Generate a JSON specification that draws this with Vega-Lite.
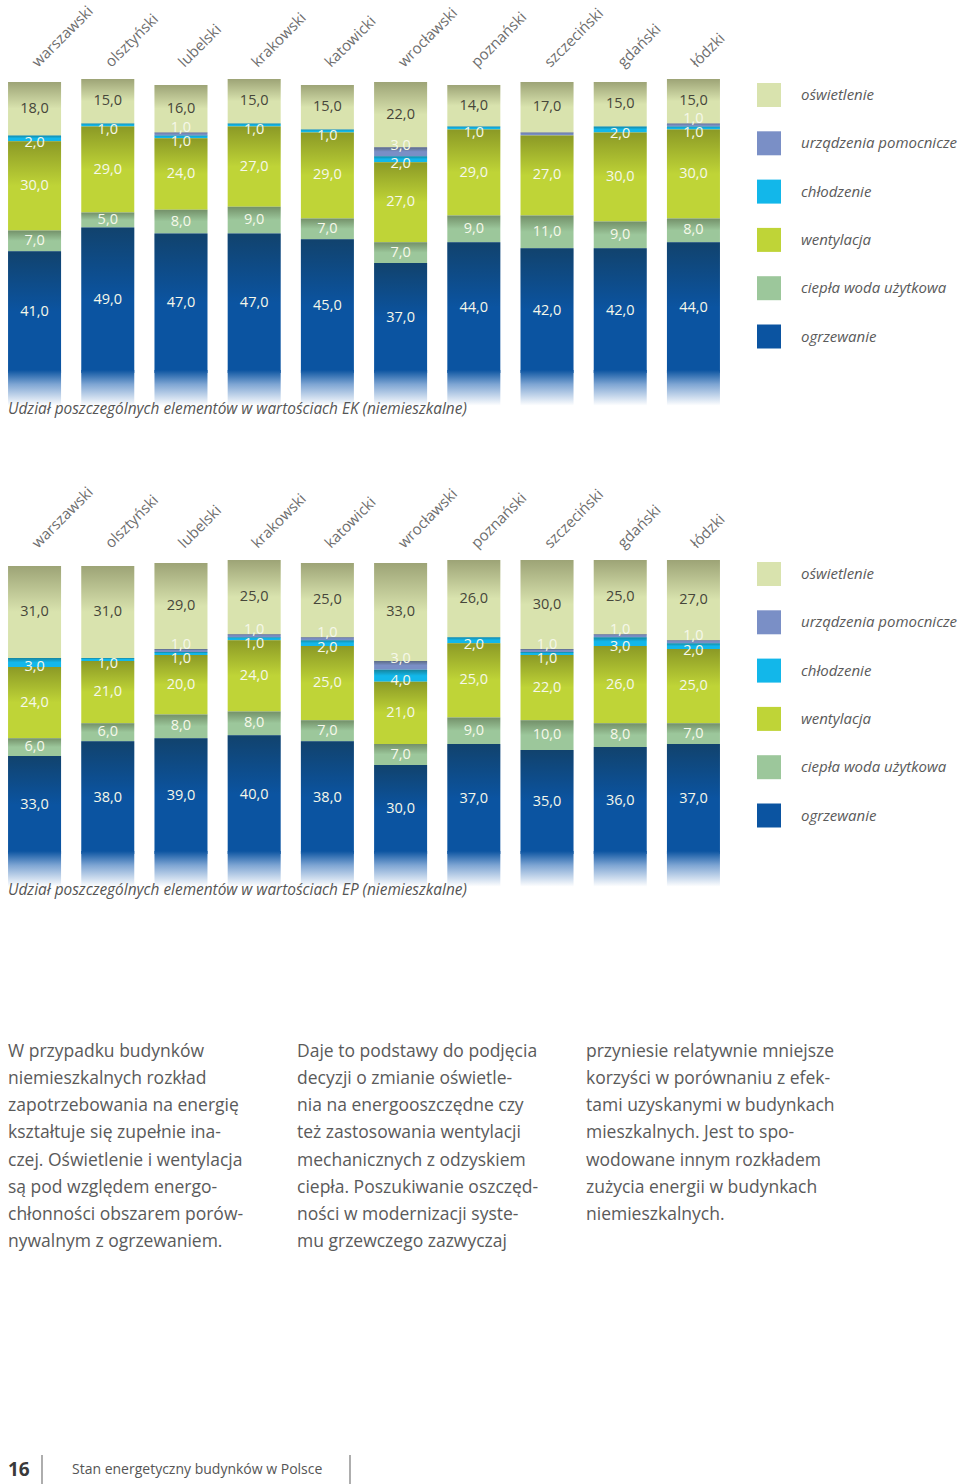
{
  "$schema": "https://vega.github.io/schema/vega-lite/v6.json",
  "background": "white",
  "padding": {"left": 0, "top": 3, "right": 0, "bottom": 0},
  "autosize": {"type": "pad"},
  "config": {
    "view": {"stroke": null},
    "font": "Open Sans",
    "locale": {"number": {"decimal": ",", "thousands": " ", "grouping": [3], "currency": ["", " zł"]}}
  },
  "datasets": {
    "kategorie": [
      {"kategoria": "ogrzewanie", "kolejnosc": 1},
      {"kategoria": "ciepła woda użytkowa", "kolejnosc": 2},
      {"kategoria": "wentylacja", "kolejnosc": 3},
      {"kategoria": "chłodzenie", "kolejnosc": 4},
      {"kategoria": "urządzenia pomocnicze", "kolejnosc": 5},
      {"kategoria": "oświetlenie", "kolejnosc": 6}
    ],
    "ek": [
      {"miasto": "warszawski", "kategoria": "oświetlenie", "wartosc": 18},
      {"miasto": "warszawski", "kategoria": "chłodzenie", "wartosc": 2},
      {"miasto": "warszawski", "kategoria": "wentylacja", "wartosc": 30},
      {"miasto": "warszawski", "kategoria": "ciepła woda użytkowa", "wartosc": 7},
      {"miasto": "warszawski", "kategoria": "ogrzewanie", "wartosc": 41},
      {"miasto": "olsztyński", "kategoria": "oświetlenie", "wartosc": 15},
      {"miasto": "olsztyński", "kategoria": "chłodzenie", "wartosc": 1},
      {"miasto": "olsztyński", "kategoria": "wentylacja", "wartosc": 29},
      {"miasto": "olsztyński", "kategoria": "ciepła woda użytkowa", "wartosc": 5},
      {"miasto": "olsztyński", "kategoria": "ogrzewanie", "wartosc": 49},
      {"miasto": "lubelski", "kategoria": "oświetlenie", "wartosc": 16},
      {"miasto": "lubelski", "kategoria": "urządzenia pomocnicze", "wartosc": 1},
      {"miasto": "lubelski", "kategoria": "chłodzenie", "wartosc": 1},
      {"miasto": "lubelski", "kategoria": "wentylacja", "wartosc": 24},
      {"miasto": "lubelski", "kategoria": "ciepła woda użytkowa", "wartosc": 8},
      {"miasto": "lubelski", "kategoria": "ogrzewanie", "wartosc": 47},
      {"miasto": "krakowski", "kategoria": "oświetlenie", "wartosc": 15},
      {"miasto": "krakowski", "kategoria": "chłodzenie", "wartosc": 1},
      {"miasto": "krakowski", "kategoria": "wentylacja", "wartosc": 27},
      {"miasto": "krakowski", "kategoria": "ciepła woda użytkowa", "wartosc": 9},
      {"miasto": "krakowski", "kategoria": "ogrzewanie", "wartosc": 47},
      {"miasto": "katowicki", "kategoria": "oświetlenie", "wartosc": 15},
      {"miasto": "katowicki", "kategoria": "chłodzenie", "wartosc": 1},
      {"miasto": "katowicki", "kategoria": "wentylacja", "wartosc": 29},
      {"miasto": "katowicki", "kategoria": "ciepła woda użytkowa", "wartosc": 7},
      {"miasto": "katowicki", "kategoria": "ogrzewanie", "wartosc": 45},
      {"miasto": "wrocławski", "kategoria": "oświetlenie", "wartosc": 22},
      {"miasto": "wrocławski", "kategoria": "urządzenia pomocnicze", "wartosc": 3},
      {"miasto": "wrocławski", "kategoria": "chłodzenie", "wartosc": 2},
      {"miasto": "wrocławski", "kategoria": "wentylacja", "wartosc": 27},
      {"miasto": "wrocławski", "kategoria": "ciepła woda użytkowa", "wartosc": 7},
      {"miasto": "wrocławski", "kategoria": "ogrzewanie", "wartosc": 37},
      {"miasto": "poznański", "kategoria": "oświetlenie", "wartosc": 14},
      {"miasto": "poznański", "kategoria": "chłodzenie", "wartosc": 1},
      {"miasto": "poznański", "kategoria": "wentylacja", "wartosc": 29},
      {"miasto": "poznański", "kategoria": "ciepła woda użytkowa", "wartosc": 9},
      {"miasto": "poznański", "kategoria": "ogrzewanie", "wartosc": 44},
      {"miasto": "szczeciński", "kategoria": "oświetlenie", "wartosc": 17},
      {"miasto": "szczeciński", "kategoria": "urządzenia pomocnicze", "wartosc": 1},
      {"miasto": "szczeciński", "kategoria": "wentylacja", "wartosc": 27},
      {"miasto": "szczeciński", "kategoria": "ciepła woda użytkowa", "wartosc": 11},
      {"miasto": "szczeciński", "kategoria": "ogrzewanie", "wartosc": 42},
      {"miasto": "gdański", "kategoria": "oświetlenie", "wartosc": 15},
      {"miasto": "gdański", "kategoria": "chłodzenie", "wartosc": 2},
      {"miasto": "gdański", "kategoria": "wentylacja", "wartosc": 30},
      {"miasto": "gdański", "kategoria": "ciepła woda użytkowa", "wartosc": 9},
      {"miasto": "gdański", "kategoria": "ogrzewanie", "wartosc": 42},
      {"miasto": "łódzki", "kategoria": "oświetlenie", "wartosc": 15},
      {"miasto": "łódzki", "kategoria": "urządzenia pomocnicze", "wartosc": 1},
      {"miasto": "łódzki", "kategoria": "chłodzenie", "wartosc": 1},
      {"miasto": "łódzki", "kategoria": "wentylacja", "wartosc": 30},
      {"miasto": "łódzki", "kategoria": "ciepła woda użytkowa", "wartosc": 8},
      {"miasto": "łódzki", "kategoria": "ogrzewanie", "wartosc": 44}
    ],
    "ep": [
      {"miasto": "warszawski", "kategoria": "oświetlenie", "wartosc": 31},
      {"miasto": "warszawski", "kategoria": "chłodzenie", "wartosc": 3},
      {"miasto": "warszawski", "kategoria": "wentylacja", "wartosc": 24},
      {"miasto": "warszawski", "kategoria": "ciepła woda użytkowa", "wartosc": 6},
      {"miasto": "warszawski", "kategoria": "ogrzewanie", "wartosc": 33},
      {"miasto": "olsztyński", "kategoria": "oświetlenie", "wartosc": 31},
      {"miasto": "olsztyński", "kategoria": "chłodzenie", "wartosc": 1},
      {"miasto": "olsztyński", "kategoria": "wentylacja", "wartosc": 21},
      {"miasto": "olsztyński", "kategoria": "ciepła woda użytkowa", "wartosc": 6},
      {"miasto": "olsztyński", "kategoria": "ogrzewanie", "wartosc": 38},
      {"miasto": "lubelski", "kategoria": "oświetlenie", "wartosc": 29},
      {"miasto": "lubelski", "kategoria": "urządzenia pomocnicze", "wartosc": 1},
      {"miasto": "lubelski", "kategoria": "chłodzenie", "wartosc": 1},
      {"miasto": "lubelski", "kategoria": "wentylacja", "wartosc": 20},
      {"miasto": "lubelski", "kategoria": "ciepła woda użytkowa", "wartosc": 8},
      {"miasto": "lubelski", "kategoria": "ogrzewanie", "wartosc": 39},
      {"miasto": "krakowski", "kategoria": "oświetlenie", "wartosc": 25},
      {"miasto": "krakowski", "kategoria": "urządzenia pomocnicze", "wartosc": 1},
      {"miasto": "krakowski", "kategoria": "chłodzenie", "wartosc": 1},
      {"miasto": "krakowski", "kategoria": "wentylacja", "wartosc": 24},
      {"miasto": "krakowski", "kategoria": "ciepła woda użytkowa", "wartosc": 8},
      {"miasto": "krakowski", "kategoria": "ogrzewanie", "wartosc": 40},
      {"miasto": "katowicki", "kategoria": "oświetlenie", "wartosc": 25},
      {"miasto": "katowicki", "kategoria": "urządzenia pomocnicze", "wartosc": 1},
      {"miasto": "katowicki", "kategoria": "chłodzenie", "wartosc": 2},
      {"miasto": "katowicki", "kategoria": "wentylacja", "wartosc": 25},
      {"miasto": "katowicki", "kategoria": "ciepła woda użytkowa", "wartosc": 7},
      {"miasto": "katowicki", "kategoria": "ogrzewanie", "wartosc": 38},
      {"miasto": "wrocławski", "kategoria": "oświetlenie", "wartosc": 33},
      {"miasto": "wrocławski", "kategoria": "urządzenia pomocnicze", "wartosc": 3},
      {"miasto": "wrocławski", "kategoria": "chłodzenie", "wartosc": 4},
      {"miasto": "wrocławski", "kategoria": "wentylacja", "wartosc": 21},
      {"miasto": "wrocławski", "kategoria": "ciepła woda użytkowa", "wartosc": 7},
      {"miasto": "wrocławski", "kategoria": "ogrzewanie", "wartosc": 30},
      {"miasto": "poznański", "kategoria": "oświetlenie", "wartosc": 26},
      {"miasto": "poznański", "kategoria": "chłodzenie", "wartosc": 2},
      {"miasto": "poznański", "kategoria": "wentylacja", "wartosc": 25},
      {"miasto": "poznański", "kategoria": "ciepła woda użytkowa", "wartosc": 9},
      {"miasto": "poznański", "kategoria": "ogrzewanie", "wartosc": 37},
      {"miasto": "szczeciński", "kategoria": "oświetlenie", "wartosc": 30},
      {"miasto": "szczeciński", "kategoria": "urządzenia pomocnicze", "wartosc": 1},
      {"miasto": "szczeciński", "kategoria": "chłodzenie", "wartosc": 1},
      {"miasto": "szczeciński", "kategoria": "wentylacja", "wartosc": 22},
      {"miasto": "szczeciński", "kategoria": "ciepła woda użytkowa", "wartosc": 10},
      {"miasto": "szczeciński", "kategoria": "ogrzewanie", "wartosc": 35},
      {"miasto": "gdański", "kategoria": "oświetlenie", "wartosc": 25},
      {"miasto": "gdański", "kategoria": "urządzenia pomocnicze", "wartosc": 1},
      {"miasto": "gdański", "kategoria": "chłodzenie", "wartosc": 3},
      {"miasto": "gdański", "kategoria": "wentylacja", "wartosc": 26},
      {"miasto": "gdański", "kategoria": "ciepła woda użytkowa", "wartosc": 8},
      {"miasto": "gdański", "kategoria": "ogrzewanie", "wartosc": 36},
      {"miasto": "łódzki", "kategoria": "oświetlenie", "wartosc": 27},
      {"miasto": "łódzki", "kategoria": "urządzenia pomocnicze", "wartosc": 1},
      {"miasto": "łódzki", "kategoria": "chłodzenie", "wartosc": 2},
      {"miasto": "łódzki", "kategoria": "wentylacja", "wartosc": 25},
      {"miasto": "łódzki", "kategoria": "ciepła woda użytkowa", "wartosc": 7},
      {"miasto": "łódzki", "kategoria": "ogrzewanie", "wartosc": 37}
    ],
    "tekst": [
      {"kolumna": 0, "wiersz": 0, "linia": "W przypadku budynków"},
      {"kolumna": 0, "wiersz": 1, "linia": "niemieszkalnych rozkład"},
      {"kolumna": 0, "wiersz": 2, "linia": "zapotrzebowania na energię"},
      {"kolumna": 0, "wiersz": 3, "linia": "kształtuje się zupełnie ina-"},
      {"kolumna": 0, "wiersz": 4, "linia": "czej. Oświetlenie i wentylacja"},
      {"kolumna": 0, "wiersz": 5, "linia": "są pod względem energo-"},
      {"kolumna": 0, "wiersz": 6, "linia": "chłonności obszarem porów-"},
      {"kolumna": 0, "wiersz": 7, "linia": "nywalnym z ogrzewaniem."},
      {"kolumna": 1, "wiersz": 0, "linia": "Daje to podstawy do podjęcia"},
      {"kolumna": 1, "wiersz": 1, "linia": "decyzji o zmianie oświetle-"},
      {"kolumna": 1, "wiersz": 2, "linia": "nia na energooszczędne czy"},
      {"kolumna": 1, "wiersz": 3, "linia": "też zastosowania wentylacji"},
      {"kolumna": 1, "wiersz": 4, "linia": "mechanicznych z odzyskiem"},
      {"kolumna": 1, "wiersz": 5, "linia": "ciepła. Poszukiwanie oszczęd-"},
      {"kolumna": 1, "wiersz": 6, "linia": "ności w modernizacji syste-"},
      {"kolumna": 1, "wiersz": 7, "linia": "mu grzewczego zazwyczaj"},
      {"kolumna": 2, "wiersz": 0, "linia": "przyniesie relatywnie mniejsze"},
      {"kolumna": 2, "wiersz": 1, "linia": "korzyści w porównaniu z efek-"},
      {"kolumna": 2, "wiersz": 2, "linia": "tami uzyskanymi w budynkach"},
      {"kolumna": 2, "wiersz": 3, "linia": "mieszkalnych. Jest to spo-"},
      {"kolumna": 2, "wiersz": 4, "linia": "wodowane innym rozkładem"},
      {"kolumna": 2, "wiersz": 5, "linia": "zużycia energii w budynkach"},
      {"kolumna": 2, "wiersz": 6, "linia": "niemieszkalnych."}
    ]
  },
  "vconcat": [
    {
      "spacing": 66,
      "resolve": {"scale": {"color": "independent", "x": "independent", "y": "independent"}, "legend": {"color": "independent"}},
      "vconcat": [
        {
          "width": 728,
          "height": 297,
          "data": {"name": "ek"},
          "transform": [{"lookup": "kategoria", "from": {"data": {"name": "kategorie"}, "key": "kategoria", "fields": ["kolejnosc"]}}],
          "title": {"text": "Udział poszczególnych elementów w wartościach EK (niemieszkalne)", "orient": "bottom", "anchor": "start", "dx": 8, "offset": -4, "fontSize": 15.4, "fontStyle": "italic", "fontWeight": "normal", "color": "#555555", "font": "Open Sans"},
          "encoding": {
            "x": {"field": "miasto", "type": "nominal", "sort": ["warszawski", "olsztyński", "lubelski", "krakowski", "katowicki", "wrocławski", "poznański", "szczeciński", "gdański", "łódzki"], "scale": {"paddingInner": 0.276, "paddingOuter": 0.11}, "axis": {"orient": "top", "title": null, "labelAngle": -45, "labelAlign": "left", "labelBaseline": "middle", "labelPadding": 12, "ticks": false, "tickSize": 0, "domain": false, "labelFontSize": 15, "labelColor": "#6d6d6d", "labelFont": "Open Sans", "labelOverlap": false, "labelBound": false, "labelFlush": false}}
          },
          "layer": [
            {
              "mark": {"type": "bar"},
              "encoding": {
                "y": {"field": "wartosc", "type": "quantitative", "stack": "zero", "scale": {"domain": [0, 100]}, "axis": null},
                "color": {"field": "kategoria", "type": "nominal", "scale": {"domain": ["oświetlenie", "urządzenia pomocnicze", "chłodzenie", "wentylacja", "ciepła woda użytkowa", "ogrzewanie"], "range": ["#d9e3ae", "#7a8fc6", "#12b7ea", "#bfd437", "#9cc79b", "#0b54a1"]}, "legend": {"orient": "none", "legendX": 757, "legendY": 7, "title": null, "symbolType": "square", "symbolSize": 576, "symbolStrokeWidth": 0, "symbolOpacity": 1, "rowPadding": 24.3, "labelOffset": 20, "labelFontSize": 15, "labelFontStyle": "italic", "labelColor": "#5a5a5a", "labelFont": "Open Sans", "padding": 0, "labelLimit": 300}},
                "order": {"field": "kolejnosc", "type": "quantitative", "sort": "ascending"}
              }
            },
            {
              "mark": {"type": "bar", "color": {"gradient": "linear", "x1": 0, "y1": 0, "x2": 0, "y2": 1, "stops": [{"offset": 0, "color": "rgba(30,30,0,0.32)"}, {"offset": 0.5, "color": "rgba(30,30,0,0)"}]}},
              "encoding": {
                "y": {"field": "wartosc", "type": "quantitative", "stack": "zero", "axis": null},
                "detail": {"field": "kategoria", "type": "nominal"},
                "order": {"field": "kolejnosc", "type": "quantitative", "sort": "ascending"}
              }
            },
            {
              "transform": [{"filter": "datum.kategoria === 'ogrzewanie'"}],
              "mark": {"type": "bar", "color": {"gradient": "linear", "x1": 0, "y1": 0, "x2": 0, "y2": 1, "stops": [{"offset": 0, "color": "#0b54a1"}, {"offset": 0.4, "color": "#7ea5d3"}, {"offset": 1, "color": "#ffffff"}]}},
              "encoding": {
                "y": {"datum": 1, "type": "quantitative", "axis": null},
                "y2": {"datum": -11}
              }
            },
            {
              "mark": {"type": "text", "fontSize": 14.5, "font": "Open Sans", "baseline": "middle", "align": "center", "dy": {"expr": "datum.kategoria === 'urządzenia pomocnicze' ? -6 : datum.kategoria === 'chłodzenie' ? 5 : 0"}},
              "encoding": {
                "y": {"field": "wartosc", "type": "quantitative", "stack": "zero", "bandPosition": 0.5, "axis": null},
                "order": {"field": "kolejnosc", "type": "quantitative", "sort": "ascending"},
                "text": {"condition": {"test": "datum.miasto === 'szczeciński' && datum.kategoria === 'urządzenia pomocnicze'", "value": ""}, "field": "wartosc", "type": "quantitative", "format": ".1f"},
                "color": {"condition": {"test": "datum.kategoria === 'oświetlenie'", "value": "#46463a"}, "value": "#f6f8ea"}
              }
            }
          ]
        },
        {
          "width": 728,
          "height": 297,
          "data": {"name": "ep"},
          "transform": [{"lookup": "kategoria", "from": {"data": {"name": "kategorie"}, "key": "kategoria", "fields": ["kolejnosc"]}}],
          "title": {"text": "Udział poszczególnych elementów w wartościach EP (niemieszkalne)", "orient": "bottom", "anchor": "start", "dx": 8, "offset": -4, "fontSize": 15.4, "fontStyle": "italic", "fontWeight": "normal", "color": "#555555", "font": "Open Sans"},
          "encoding": {
            "x": {"field": "miasto", "type": "nominal", "sort": ["warszawski", "olsztyński", "lubelski", "krakowski", "katowicki", "wrocławski", "poznański", "szczeciński", "gdański", "łódzki"], "scale": {"paddingInner": 0.276, "paddingOuter": 0.11}, "axis": {"orient": "top", "title": null, "labelAngle": -45, "labelAlign": "left", "labelBaseline": "middle", "labelPadding": 12, "ticks": false, "tickSize": 0, "domain": false, "labelFontSize": 15, "labelColor": "#6d6d6d", "labelFont": "Open Sans", "labelOverlap": false, "labelBound": false, "labelFlush": false}}
          },
          "layer": [
            {
              "mark": {"type": "bar"},
              "encoding": {
                "y": {"field": "wartosc", "type": "quantitative", "stack": "zero", "scale": {"domain": [0, 100]}, "axis": null},
                "color": {"field": "kategoria", "type": "nominal", "scale": {"domain": ["oświetlenie", "urządzenia pomocnicze", "chłodzenie", "wentylacja", "ciepła woda użytkowa", "ogrzewanie"], "range": ["#d9e3ae", "#7a8fc6", "#12b7ea", "#bfd437", "#9cc79b", "#0b54a1"]}, "legend": {"orient": "none", "legendX": 757, "legendY": 5, "title": null, "symbolType": "square", "symbolSize": 576, "symbolStrokeWidth": 0, "symbolOpacity": 1, "rowPadding": 24.3, "labelOffset": 20, "labelFontSize": 15, "labelFontStyle": "italic", "labelColor": "#5a5a5a", "labelFont": "Open Sans", "padding": 0, "labelLimit": 300}},
                "order": {"field": "kolejnosc", "type": "quantitative", "sort": "ascending"}
              }
            },
            {
              "mark": {"type": "bar", "color": {"gradient": "linear", "x1": 0, "y1": 0, "x2": 0, "y2": 1, "stops": [{"offset": 0, "color": "rgba(30,30,0,0.32)"}, {"offset": 0.5, "color": "rgba(30,30,0,0)"}]}},
              "encoding": {
                "y": {"field": "wartosc", "type": "quantitative", "stack": "zero", "axis": null},
                "detail": {"field": "kategoria", "type": "nominal"},
                "order": {"field": "kolejnosc", "type": "quantitative", "sort": "ascending"}
              }
            },
            {
              "transform": [{"filter": "datum.kategoria === 'ogrzewanie'"}],
              "mark": {"type": "bar", "color": {"gradient": "linear", "x1": 0, "y1": 0, "x2": 0, "y2": 1, "stops": [{"offset": 0, "color": "#0b54a1"}, {"offset": 0.4, "color": "#7ea5d3"}, {"offset": 1, "color": "#ffffff"}]}},
              "encoding": {
                "y": {"datum": 1, "type": "quantitative", "axis": null},
                "y2": {"datum": -11}
              }
            },
            {
              "mark": {"type": "text", "fontSize": 14.5, "font": "Open Sans", "baseline": "middle", "align": "center", "dy": {"expr": "datum.kategoria === 'urządzenia pomocnicze' ? -6 : datum.kategoria === 'chłodzenie' ? 5 : 0"}},
              "encoding": {
                "y": {"field": "wartosc", "type": "quantitative", "stack": "zero", "bandPosition": 0.5, "axis": null},
                "order": {"field": "kolejnosc", "type": "quantitative", "sort": "ascending"},
                "text": {"field": "wartosc", "type": "quantitative", "format": ".1f"},
                "color": {"condition": {"test": "datum.kategoria === 'oświetlenie'", "value": "#46463a"}, "value": "#f6f8ea"}
              }
            }
          ]
        }
      ]
    },
    {
      "spacing": 198,
      "vconcat": [
        {
          "width": 960,
          "height": 218,
          "data": {"name": "tekst"},
          "mark": {"type": "text", "align": "left", "baseline": "middle", "font": "Open Sans", "fontSize": 17.5, "color": "#5a5a5a"},
          "encoding": {
            "x": {"field": "kolumna", "type": "quantitative", "scale": {"domain": [0, 3], "range": [8, 875], "nice": false}, "axis": null},
            "y": {"field": "wiersz", "type": "quantitative", "scale": {"domain": [-0.5, 7.5], "reverse": true, "nice": false}, "axis": null},
            "text": {"field": "linia", "type": "nominal"}
          }
        },
        {
          "width": 960,
          "height": 30,
          "data": {"values": [{"strona": 16, "tytul": "Stan energetyczny budynków w Polsce"}]},
          "layer": [
            {
              "mark": {"type": "text", "align": "left", "baseline": "middle", "font": "Open Sans", "fontSize": 19, "fontWeight": "bold", "color": "#3a3a3a"},
              "encoding": {
                "x": {"datum": 8, "type": "quantitative", "scale": {"domain": [0, 960], "nice": false, "zero": false}, "axis": null},
                "y": {"datum": 0.5, "type": "quantitative", "scale": {"domain": [0, 1], "nice": false}, "axis": null},
                "text": {"field": "strona", "type": "nominal"}
              }
            },
            {
              "mark": {"type": "text", "align": "left", "baseline": "middle", "font": "Open Sans", "fontSize": 14, "color": "#555555"},
              "encoding": {
                "x": {"datum": 72, "type": "quantitative"},
                "y": {"datum": 0.5, "type": "quantitative"},
                "text": {"field": "tytul", "type": "nominal"}
              }
            },
            {
              "mark": {"type": "rule", "color": "#777777", "strokeWidth": 1.2},
              "encoding": {
                "x": {"datum": 42, "type": "quantitative"},
                "y": {"datum": 0, "type": "quantitative"},
                "y2": {"datum": 1}
              }
            },
            {
              "mark": {"type": "rule", "color": "#777777", "strokeWidth": 1.2},
              "encoding": {
                "x": {"datum": 350, "type": "quantitative"},
                "y": {"datum": 0, "type": "quantitative"},
                "y2": {"datum": 1}
              }
            }
          ]
        }
      ]
    }
  ],
  "spacing": 139
}
